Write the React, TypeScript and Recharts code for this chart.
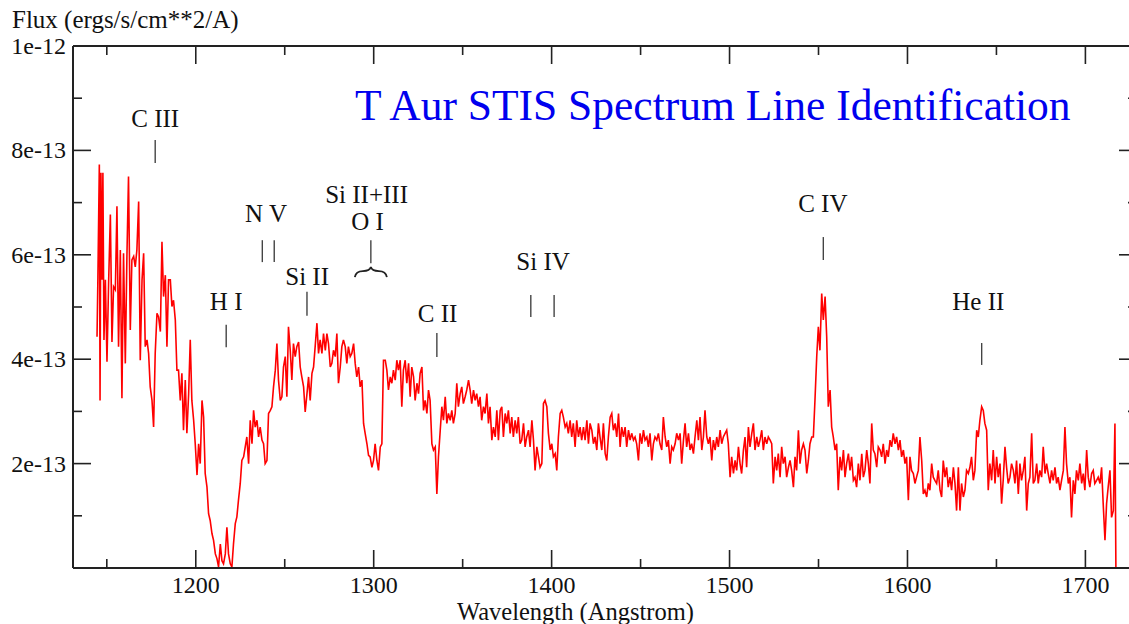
import React from 'react';
import { LineChart, Line, XAxis, YAxis, ReferenceLine, ReferenceDot } from 'recharts';

// Spectrum: [wavelength (Angstrom), flux in units of 1e-13 ergs/s/cm^2/A]
const segA: [number, number][] = [
  [1144.5,4.43],[1145.0,5.58],[1145.8,7.73],[1146.2,3.21],[1146.7,7.57],[1147.3,5.52],[1147.8,7.57],[1148.4,4.37],
  [1149.2,5.52],[1150.1,3.95],[1151.0,5.45],[1152.0,6.77],[1152.9,4.33],[1153.8,5.39],[1154.8,5.33],[1155.7,6.93],
  [1156.6,4.24],[1157.6,6.09],[1158.5,3.25],[1159.4,6.03],[1160.4,3.92],[1161.3,5.97],[1162.2,7.50],[1163.2,4.56],
  [1164.1,5.90],[1165.1,5.97],[1166.0,5.77],[1166.9,6.09],[1167.9,7.02],[1168.8,3.98],[1169.8,5.52],[1170.7,6.03],
  [1171.6,4.24],[1172.6,4.37],[1173.5,4.11],[1174.4,3.47],[1175.4,3.21],[1176.3,2.70],[1177.2,4.11],[1178.2,4.88],
  [1179.1,4.81],[1180.1,4.53],[1181.0,6.25],[1181.9,5.20],[1182.9,5.61],[1183.8,4.24],[1184.7,5.52],[1185.7,5.52],
  [1186.6,5.01],[1187.5,5.13],[1188.5,4.75],[1189.4,3.79],[1190.3,3.79],
];
const segB: [number, number][] = [
  [1191.3,3.21],[1192.2,3.73],[1193.1,2.64],[1194.1,3.60],[1195.0,2.58],[1196.0,3.34],[1196.9,4.37],[1197.8,3.21],
  [1198.8,2.83],[1199.7,2.38],[1200.7,1.78],[1201.6,2.38],[1202.5,2.00],[1203.5,3.21],[1204.4,2.89],[1205.3,1.81],
  [1206.3,1.55],[1207.2,1.04],[1208.1,0.91],[1209.1,0.66],[1210.0,0.53],[1211.0,0.27],[1211.9,0.18],[1212.8,0.02],
  [1213.8,0.46],[1214.7,0.14],[1215.6,0.08],[1216.6,0.27],[1217.5,0.78],[1218.4,0.27],[1219.4,0.08],[1220.3,0.02],
  [1221.2,0.46],[1222.2,0.85],[1223.1,0.98],[1224.0,1.30],[1225.0,1.62],[1225.9,2.06],[1226.9,2.13],[1227.8,2.32],
  [1228.7,2.51],[1229.7,2.00],[1230.6,2.83],[1231.6,2.38],[1232.5,3.02],[1233.4,2.70],[1234.4,2.83],[1235.3,2.51],
  [1236.2,2.70],[1237.2,2.45],[1238.1,2.38],[1239.0,2.00],[1240.0,2.06],[1240.9,2.96],[1241.9,3.02],[1242.8,3.09],
  [1243.7,3.47],[1244.7,3.79],[1245.6,4.30],[1246.5,3.60],[1247.5,3.21],[1248.4,3.28],[1249.3,3.85],[1250.3,4.05],
  [1251.2,3.28],[1252.1,4.62],[1253.1,4.17],[1254.0,3.60],[1254.9,4.30],[1255.9,4.05],[1256.8,4.24],[1257.8,4.33],
  [1258.7,3.85],[1259.6,3.66],[1260.6,3.47],[1261.5,2.99],[1262.5,3.34],[1263.4,3.66],[1264.3,3.21],[1265.3,3.73],
  [1266.2,3.85],[1267.1,4.24],[1268.1,4.69],[1269.0,4.11],[1269.9,4.37],[1270.9,4.11],[1271.8,4.49],[1272.8,4.17],
  [1273.7,4.49],[1274.6,4.30],[1275.6,3.85],[1276.5,3.92],[1277.4,4.17],[1278.4,4.05],[1279.3,4.49],[1280.2,3.54],
  [1281.2,3.85],[1282.1,4.24],[1283.0,4.37],[1284.0,4.24],[1284.9,3.92],[1285.8,4.24],[1286.8,4.05],[1287.7,4.11],
  [1288.7,4.30],[1289.6,3.92],[1290.5,3.66],[1291.5,3.85],[1292.4,3.47],[1293.4,3.60],[1294.3,2.77],[1295.2,2.58],
  [1296.2,2.38],[1297.1,2.16],[1298.0,2.13],[1299.0,1.93],[1299.9,2.06],[1300.8,2.38],[1301.8,2.06],[1302.7,1.87],
  [1303.7,2.32],[1304.6,2.38],
];
const segC: [number, number][] = [
  [1305.5,3.98],[1306.5,3.98],[1307.4,3.79],[1308.3,3.41],[1309.3,3.66],[1310.2,3.54],[1311.1,3.79],[1312.1,3.60],
  [1313.0,3.98],[1313.9,3.79],[1314.9,3.98],[1315.8,3.09],[1316.7,3.79],[1317.7,3.98],[1318.6,3.54],[1319.6,3.92],
  [1320.5,3.28],[1321.4,3.85],[1322.4,3.66],[1323.3,3.21],[1324.3,3.54],[1325.2,3.34],[1326.1,3.73],[1327.1,3.85],
  [1328.0,3.02],[1328.9,3.21],[1329.9,2.96],[1330.8,3.41],[1331.7,3.21],[1332.7,2.38],[1333.6,2.26],[1334.6,2.32],
  [1335.5,1.42],[1336.4,2.13],[1337.4,2.64],[1338.3,3.09],[1339.2,2.83],[1340.2,3.28],[1341.1,2.77],[1342.0,2.96],
  [1343.0,2.83],[1343.9,3.02],[1344.8,2.77],[1345.8,2.96],[1346.7,3.54],[1347.6,3.09],[1348.6,3.34],[1349.5,3.47],
  [1350.4,3.15],[1351.4,3.28],[1352.3,3.41],[1353.3,3.60],[1354.2,3.41],[1355.1,3.15],[1356.1,3.41],[1357.0,3.21],
  [1357.9,3.34],[1358.9,3.09],[1359.8,3.28],[1360.7,2.83],[1361.7,3.09],[1362.6,2.96],[1363.6,3.34],[1364.5,2.77],
  [1365.4,3.09],[1366.4,2.45],[1367.3,2.70],[1368.3,2.51],[1369.2,3.02],[1370.1,2.45],[1371.1,3.02],[1372.0,3.09],
  [1372.9,2.51],[1373.9,2.96],[1374.8,2.77],[1375.7,3.02],[1376.7,2.58],[1377.6,2.89],[1378.5,2.51],[1379.5,2.83],
  [1380.4,2.58],[1381.3,2.89],[1382.3,2.38],[1383.2,2.45],[1384.2,2.77],[1385.1,2.32],[1386.0,2.51],[1387.0,2.64],
  [1387.9,2.32],[1388.9,2.83],[1389.8,2.45],[1390.7,1.87],[1391.7,2.32],[1392.6,2.13],[1393.5,1.93],[1394.5,2.00],
  [1395.4,3.15],[1396.3,3.21],[1397.3,3.09],[1398.2,2.58],[1399.2,2.26],[1400.1,2.38],[1401.0,2.13],[1402.0,2.19],
  [1402.9,1.87],[1403.8,2.51],[1404.8,2.96],[1405.7,3.02],[1406.6,2.89],[1407.6,2.70],[1408.5,2.77],[1409.4,2.58],
  [1410.4,2.83],[1411.3,2.51],[1412.2,2.77],[1413.2,2.32],[1414.1,2.83],[1415.1,2.51],[1416.0,2.70],[1416.9,2.45],
  [1417.9,2.70],[1418.8,2.45],[1419.8,2.83],[1420.7,2.38],[1421.6,2.77],[1422.6,2.64],[1423.5,2.38],[1424.4,2.51],
  [1425.4,2.26],[1426.3,2.77],
];
const segD: [number, number][] = [
  [1427.2,2.51],[1428.2,2.26],[1429.1,2.77],[1430.1,2.19],[1431.0,2.06],[1431.9,2.51],[1432.9,2.89],[1433.8,2.96],
  [1434.7,2.64],[1435.7,2.77],[1436.6,2.51],[1437.6,2.96],[1438.5,2.32],[1439.4,2.70],[1440.4,2.51],[1441.3,2.70],
  [1442.2,2.32],[1443.2,2.64],[1444.1,2.45],[1445.0,2.58],[1446.0,2.45],[1446.9,2.51],[1447.8,2.38],[1448.8,2.06],
  [1449.7,2.58],[1450.7,2.38],[1451.6,2.64],[1452.5,2.45],[1453.5,2.51],[1454.4,2.32],[1455.3,2.58],[1456.3,2.06],
  [1457.2,2.38],[1458.1,2.51],[1459.1,2.45],[1460.0,2.58],[1460.9,2.38],[1461.9,2.26],[1462.8,2.89],[1463.8,2.51],
  [1464.7,2.32],[1465.6,2.45],[1466.6,2.00],[1467.5,2.32],[1468.4,2.26],[1469.4,2.38],[1470.3,2.58],[1471.3,2.45],
  [1472.2,2.58],[1473.1,2.00],[1474.1,2.45],[1475.0,2.77],[1475.9,2.32],[1476.9,2.58],[1477.8,2.26],[1478.7,2.38],
  [1479.7,2.19],[1480.6,2.51],[1481.6,2.83],[1482.5,2.45],[1483.4,2.89],[1484.4,2.26],[1485.3,2.51],[1486.2,3.02],
  [1487.2,2.51],[1488.1,2.38],[1489.0,2.51],[1490.0,2.06],[1490.9,2.45],[1491.9,2.26],[1492.8,2.51],[1493.7,2.32],
  [1494.7,2.64],[1495.6,2.38],[1496.5,2.51],[1497.5,2.58],[1498.4,2.64],[1499.3,2.38],[1500.3,1.74],[1501.2,2.13],
  [1502.2,1.81],[1503.1,2.06],[1504.0,1.87],[1505.0,2.32],[1505.9,2.00],[1506.8,1.81],[1507.8,2.26],[1508.7,2.51],
  [1509.6,1.93],[1510.6,2.70],[1511.5,2.32],[1512.5,2.58],[1513.4,2.77],[1514.3,2.26],[1515.3,2.51],[1516.2,2.32],
  [1517.1,2.45],[1518.1,2.64],[1519.0,2.26],[1519.9,2.51],[1520.9,2.38],[1521.8,2.51],[1522.8,2.45],[1523.7,2.38],
  [1524.6,1.62],[1525.6,2.13],[1526.5,1.87],[1527.4,2.19],[1528.4,1.74],[1529.3,2.32],[1530.2,2.00],[1531.2,2.13],
  [1532.1,1.74],[1533.1,1.93],[1534.0,2.06],[1534.9,1.87],[1535.9,1.55],[1536.8,2.13],[1537.7,1.87],[1538.7,2.64],
  [1539.6,2.00],[1540.5,2.26],[1541.5,2.38],[1542.4,2.26],[1543.4,1.81],[1544.3,2.06],[1545.2,2.38],[1546.2,2.51],
  [1547.1,2.51],[1548.0,3.21],[1549.0,4.05],[1549.9,4.62],[1550.8,4.17],[1551.8,5.26],[1552.7,4.75],[1553.7,5.20],
  [1554.6,4.43],[1555.5,3.09],[1556.5,3.41],[1557.4,2.70],[1558.3,2.51],[1559.3,2.26],[1560.2,2.38],[1561.1,1.49],
  [1562.1,2.13],[1563.0,1.87],[1564.0,2.26],[1564.9,1.74],[1565.8,2.00],[1566.8,2.19],[1567.7,1.87],[1568.6,2.13],
  [1569.6,1.68],[1570.5,1.74],[1571.4,1.55],[1572.4,2.00],[1573.3,1.68],[1574.3,2.19],[1575.2,1.74],[1576.1,1.87],
  [1577.1,2.26],[1578.0,2.00],[1578.9,1.62],[1579.9,2.77],[1580.8,2.26],[1581.7,2.19],[1582.7,1.93],[1583.6,2.32],
];
const segE: [number, number][] = [
  [1584.6,2.26],[1585.5,2.13],[1586.4,2.38],[1587.4,2.00],[1588.3,2.26],[1589.2,2.13],[1590.2,2.45],[1591.1,2.32],
  [1592.0,2.58],[1593.0,2.38],[1593.9,2.51],[1594.9,2.26],[1595.8,2.45],[1596.7,2.13],[1597.7,2.26],[1598.6,2.00],
  [1599.5,2.13],[1600.5,1.30],[1601.4,2.13],[1602.3,1.87],[1603.3,1.81],[1604.2,1.62],[1605.1,1.74],[1606.1,1.87],
  [1607.0,2.51],[1608.0,2.06],[1608.9,1.42],[1609.8,1.49],[1610.8,1.36],[1611.7,1.62],[1612.6,1.49],[1613.6,2.00],
  [1614.5,1.74],[1615.4,1.68],[1616.4,1.62],[1617.3,1.87],[1618.3,1.49],[1619.2,1.36],[1620.1,2.06],[1621.1,1.74],
  [1622.0,1.93],[1622.9,1.55],[1623.9,1.74],[1624.8,1.49],[1625.8,1.93],[1626.7,1.62],[1627.6,1.10],[1628.6,1.93],
  [1629.5,1.10],[1630.4,1.62],[1631.4,1.36],[1632.3,1.49],[1633.2,1.87],[1634.2,1.81],[1635.1,1.93],[1636.0,2.13],
  [1637.0,1.68],[1637.9,1.87],[1638.9,2.64],[1639.8,2.51],[1640.7,2.83],[1641.7,3.09],[1642.6,3.02],[1643.5,2.77],
  [1644.5,2.64],[1645.4,1.49],[1646.3,2.00],[1647.3,1.68],[1648.2,2.26],[1649.2,1.62],[1650.1,2.13],[1651.0,1.74],
  [1652.0,2.00],[1652.9,1.23],[1653.8,1.68],[1654.8,2.32],[1655.7,1.93],[1656.6,1.62],[1657.6,1.74],[1658.5,2.00],
  [1659.5,1.87],[1660.4,1.62],[1661.3,2.06],[1662.3,1.42],[1663.2,2.00],[1664.1,1.68],[1665.1,1.87],[1666.0,2.13],
  [1667.0,1.10],[1667.9,1.62],[1668.8,1.74],[1669.8,2.58],[1670.7,1.62],[1671.6,1.68],[1672.6,2.00],[1673.5,1.62],
  [1674.4,1.87],[1675.4,1.74],[1676.3,2.32],[1677.3,1.81],[1678.2,2.00],[1679.1,1.81],[1680.1,1.62],[1681.0,1.87],
  [1681.9,1.68],[1682.9,1.93],[1683.8,1.62],[1684.7,1.74],[1685.7,1.49],[1686.6,1.68],[1687.6,1.87],[1688.5,2.70],
  [1689.4,2.00],[1690.4,1.62],[1691.3,1.74],[1692.2,0.97],[1693.2,1.68],[1694.1,1.42],[1695.0,1.87],[1696.0,1.68],
  [1696.9,2.00],[1697.9,1.62],[1698.8,1.81],[1699.7,1.49],[1700.7,2.26],[1701.6,1.74],[1702.5,1.55],[1703.5,1.81],
  [1704.4,1.87],[1705.3,1.62],[1706.3,1.68],[1707.2,1.74],[1708.2,1.62],[1709.1,1.93],[1710.0,1.23],[1711.0,0.53],
  [1711.9,1.23],[1712.8,1.55],[1713.8,1.87],[1714.7,0.97],[1715.7,1.10],[1716.6,2.77],[1717.2,-0.3],
];

const X_MAJOR = [1200, 1300, 1400, 1500, 1600, 1700];
const X_MINOR = [1150, 1250, 1350, 1450, 1550, 1650];
const Y_MAJOR = [2, 4, 6, 8, 10];
const Y_MINOR = [1, 3, 5, 7, 9];
const Y_LABELS: Record<number, string> = { 2: '2e-13', 4: '4e-13', 6: '6e-13', 8: '8e-13', 10: '1e-12' };

// Line identifications: labels (wavelength, flux at baseline) and tick marks
const LINE_LABELS = [
  { text: 'C III', w: 1177.2, f: 8.45 },
  { text: 'H I', w: 1217.1, f: 4.94 },
  { text: 'N V', w: 1239.5, f: 6.63 },
  { text: 'Si II', w: 1262.6, f: 5.42 },
  { text: 'Si II+III', w: 1296.0, f: 6.99 },
  { text: 'O I', w: 1296.5, f: 6.48 },
  { text: 'C II', w: 1335.9, f: 4.71 },
  { text: 'Si IV', w: 1395.2, f: 5.71 },
  { text: 'C IV', w: 1552.4, f: 6.82 },
  { text: 'He II', w: 1639.8, f: 4.94 },
];
const LINE_TICKS = [
  { w: 1177.2, top: 8.2, bottom: 7.76 },
  { w: 1217.1, top: 4.66, bottom: 4.23 },
  { w: 1237.4, top: 6.28, bottom: 5.86 },
  { w: 1244.1, top: 6.28, bottom: 5.86 },
  { w: 1262.5, top: 5.29, bottom: 4.83 },
  { w: 1298.4, top: 6.28, bottom: 5.84 },
  { w: 1335.5, top: 4.5, bottom: 4.04 },
  { w: 1388.3, top: 5.23, bottom: 4.81 },
  { w: 1401.4, top: 5.23, bottom: 4.81 },
  { w: 1552.7, top: 6.34, bottom: 5.9 },
  { w: 1641.7, top: 4.31, bottom: 3.89 },
];
const BRACE = { w: 1298.4, f: 5.67 };

const data = [...segA, ...segB, ...segC, ...segD, ...segE].map(([w, f]) => ({ w, f }));

const SERIF = '"Liberation Serif", "Times New Roman", "DejaVu Serif", serif';
const AXIS = '#222';
const TEXT = '#111';

const BottomTick = (props: any) => {
  const { x, y, payload } = props;
  const major = X_MAJOR.includes(payload.value);
  return (
    <g>
      <line x1={x} x2={x} y1={y} y2={y - (major ? 18 : 9)} stroke={AXIS} strokeWidth={1.6} />
      {major && (
        <text x={x} y={y + 25} textAnchor="middle" fontSize={24} fill={TEXT} fontFamily={SERIF}>
          {payload.value}
        </text>
      )}
    </g>
  );
};
const TopTick = (props: any) => {
  const { x, y, payload } = props;
  const major = X_MAJOR.includes(payload.value);
  return <line x1={x} x2={x} y1={y} y2={y + (major ? 18 : 9)} stroke={AXIS} strokeWidth={1.6} />;
};
const LeftTick = (props: any) => {
  const { x, y, payload } = props;
  const major = Y_MAJOR.includes(payload.value);
  return (
    <g>
      <line x1={x} x2={x + (major ? 18 : 9)} y1={y} y2={y} stroke={AXIS} strokeWidth={1.6} />
      {major && (
        <text x={x - 7} y={y + 8} textAnchor="end" fontSize={24} fill={TEXT} fontFamily={SERIF}>
          {Y_LABELS[payload.value]}
        </text>
      )}
    </g>
  );
};
const RightTick = (props: any) => {
  const { x, y, payload } = props;
  const major = Y_MAJOR.includes(payload.value);
  return <line x1={x} x2={x - (major ? 18 : 9)} y1={y} y2={y} stroke={AXIS} strokeWidth={1.6} />;
};

const xTicks = [...X_MINOR, ...X_MAJOR].sort((a, b) => a - b);
const yTicks = [...Y_MINOR, ...Y_MAJOR].sort((a, b) => a - b);

export default function App() {
  return (
    <div
      style={{
        position: 'absolute',
        left: 0,
        top: 0,
        width: 1129,
        height: 624,
        overflow: 'hidden',
        background: '#fff',
      }}
    >
      <LineChart width={1140} height={624} data={data} margin={{ top: 45, right: 2, bottom: 0, left: 0 }}>
        <XAxis
          dataKey="w"
          type="number"
          domain={[1131, 1729]}
          allowDataOverflow
          ticks={xTicks}
          interval={0}
          height={56}
          tickSize={0}
          tickMargin={0}
          tickLine={false}
          tick={<BottomTick />}
          axisLine={{ stroke: AXIS, strokeWidth: 2 }}
        />
        <XAxis
          xAxisId="top"
          orientation="top"
          dataKey="w"
          type="number"
          domain={[1131, 1729]}
          allowDataOverflow
          ticks={xTicks}
          interval={0}
          height={1}
          tickSize={0}
          tickMargin={0}
          tickLine={false}
          tick={<TopTick />}
          axisLine={{ stroke: AXIS, strokeWidth: 2 }}
        />
        <YAxis
          type="number"
          domain={[0, 10]}
          allowDataOverflow
          ticks={yTicks}
          interval={0}
          width={73}
          tickSize={0}
          tickMargin={0}
          tickLine={false}
          tick={<LeftTick />}
          axisLine={{ stroke: AXIS, strokeWidth: 2 }}
        />
        <YAxis
          yAxisId="right"
          orientation="right"
          type="number"
          domain={[0, 10]}
          allowDataOverflow
          ticks={yTicks}
          interval={0}
          width={1}
          tickSize={0}
          tickMargin={0}
          tickLine={false}
          tick={<RightTick />}
          axisLine={{ stroke: AXIS, strokeWidth: 2 }}
        />
        <Line
          dataKey="f"
          type="linear"
          stroke="#ff0000"
          strokeWidth={1.6}
          dot={false}
          activeDot={false}
          isAnimationActive={false}
        />
        {LINE_TICKS.map((t, i) => (
          <ReferenceLine
            key={`t${i}`}
            segment={[{ x: t.w, y: t.top }, { x: t.w, y: t.bottom }]}
            stroke="#444"
            strokeWidth={1.4}
            ifOverflow="visible"
          />
        ))}
        {LINE_LABELS.map((l, i) => (
          <ReferenceDot
            key={`l${i}`}
            x={l.w}
            y={l.f}
            r={1}
            ifOverflow="visible"
            shape={(p: any) => (
              <text x={p.cx} y={p.cy} textAnchor="middle" fontSize={25} fill={TEXT} fontFamily={SERIF}>
                {l.text}
              </text>
            )}
          />
        ))}
        <ReferenceDot
          x={BRACE.w}
          y={BRACE.f}
          r={1}
          ifOverflow="visible"
          shape={(p: any) => (
            <path
              d={`M ${p.cx - 16} ${p.cy + 5} Q ${p.cx - 15} ${p.cy - 1} ${p.cx - 8} ${p.cy - 1} Q ${p.cx - 1} ${p.cy - 1} ${p.cx} ${p.cy - 5} Q ${p.cx + 1} ${p.cy - 1} ${p.cx + 8} ${p.cy - 1} Q ${p.cx + 15} ${p.cy - 1} ${p.cx + 16} ${p.cy + 5}`}
              fill="none"
              stroke="#222"
              strokeWidth={1.8}
            />
          )}
        />
      </LineChart>
      <svg
        width={1129}
        height={624}
        style={{ position: 'absolute', left: 0, top: 0, pointerEvents: 'none' }}
      >
        <text x={12} y={28} fontSize={25} fill={TEXT} fontFamily={SERIF}>
          Flux (ergs/s/cm**2/A)
        </text>
        <text x={457} y={619.5} fontSize={24.5} fill={TEXT} fontFamily={SERIF}>
          Wavelength (Angstrom)
        </text>
        <text x={355} y={120} fontSize={43.5} fill="#0000ee" fontFamily={SERIF}>
          T Aur STIS Spectrum Line Identification
        </text>
      </svg>
    </div>
  );
}
